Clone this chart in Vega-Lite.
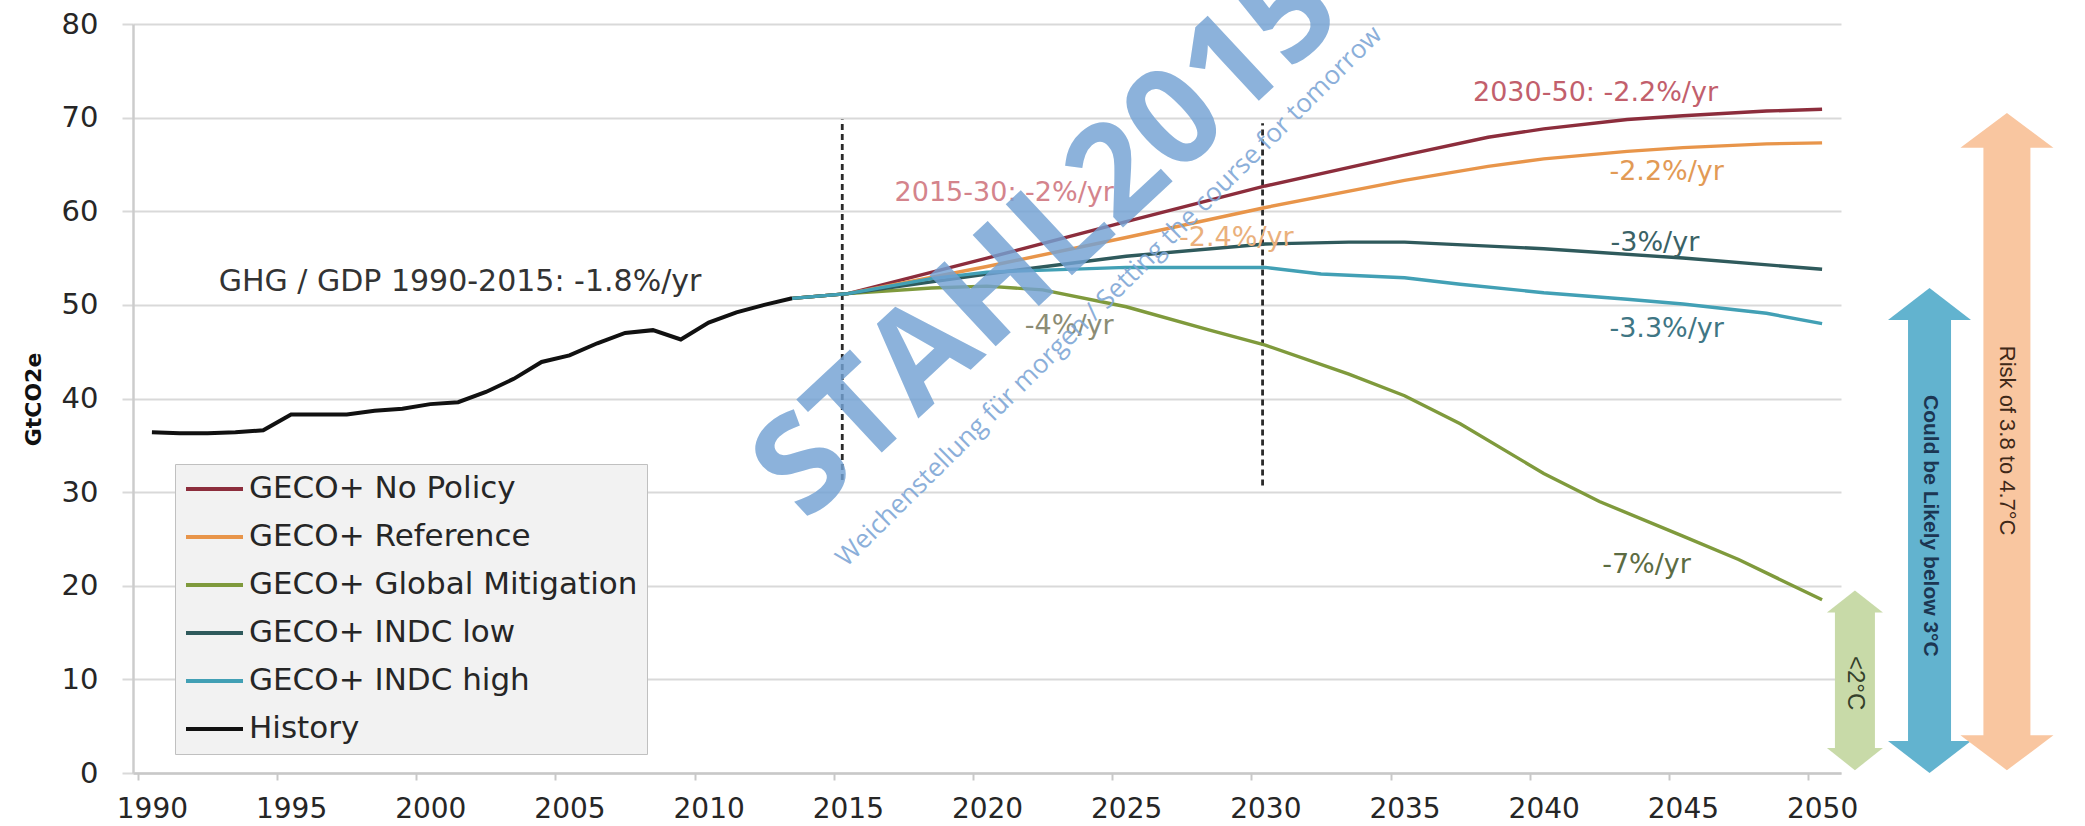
{
  "$schema": "https://vega.github.io/schema/vega-lite/v6.json",
  "width": 1708,
  "height": 749,
  "autosize": {"type": "none"},
  "padding": {"left": 133, "top": 24, "right": 244, "bottom": 53},
  "background": "#ffffff",
  "config": {"view": {"stroke": null}, "font": "DejaVu Sans"},
  "datasets": {
    "series": [
      {"series": "History", "year": 1990, "value": 36.4},
      {"series": "History", "year": 1991, "value": 36.3},
      {"series": "History", "year": 1992, "value": 36.3},
      {"series": "History", "year": 1993, "value": 36.4},
      {"series": "History", "year": 1994, "value": 36.6},
      {"series": "History", "year": 1995, "value": 38.3},
      {"series": "History", "year": 1996, "value": 38.3},
      {"series": "History", "year": 1997, "value": 38.3},
      {"series": "History", "year": 1998, "value": 38.7},
      {"series": "History", "year": 1999, "value": 38.9},
      {"series": "History", "year": 2000, "value": 39.4},
      {"series": "History", "year": 2001, "value": 39.6},
      {"series": "History", "year": 2002, "value": 40.7},
      {"series": "History", "year": 2003, "value": 42.1},
      {"series": "History", "year": 2004, "value": 43.9},
      {"series": "History", "year": 2005, "value": 44.6},
      {"series": "History", "year": 2006, "value": 45.9},
      {"series": "History", "year": 2007, "value": 47.0},
      {"series": "History", "year": 2008, "value": 47.3},
      {"series": "History", "year": 2009, "value": 46.3},
      {"series": "History", "year": 2010, "value": 48.1},
      {"series": "History", "year": 2011, "value": 49.2},
      {"series": "History", "year": 2012, "value": 50.0},
      {"series": "History", "year": 2013, "value": 50.7},
      {"series": "GECO+ No Policy", "year": 2013, "value": 50.7},
      {"series": "GECO+ No Policy", "year": 2015, "value": 51.2},
      {"series": "GECO+ No Policy", "year": 2020, "value": 55.0},
      {"series": "GECO+ No Policy", "year": 2025, "value": 58.9},
      {"series": "GECO+ No Policy", "year": 2030, "value": 62.7},
      {"series": "GECO+ No Policy", "year": 2035, "value": 66.0},
      {"series": "GECO+ No Policy", "year": 2038, "value": 67.9},
      {"series": "GECO+ No Policy", "year": 2040, "value": 68.8},
      {"series": "GECO+ No Policy", "year": 2043, "value": 69.8},
      {"series": "GECO+ No Policy", "year": 2045, "value": 70.2},
      {"series": "GECO+ No Policy", "year": 2048, "value": 70.7},
      {"series": "GECO+ No Policy", "year": 2050, "value": 70.9},
      {"series": "GECO+ Reference", "year": 2013, "value": 50.7},
      {"series": "GECO+ Reference", "year": 2015, "value": 51.2},
      {"series": "GECO+ Reference", "year": 2020, "value": 54.1},
      {"series": "GECO+ Reference", "year": 2025, "value": 57.2},
      {"series": "GECO+ Reference", "year": 2030, "value": 60.4},
      {"series": "GECO+ Reference", "year": 2035, "value": 63.3},
      {"series": "GECO+ Reference", "year": 2038, "value": 64.8},
      {"series": "GECO+ Reference", "year": 2040, "value": 65.6},
      {"series": "GECO+ Reference", "year": 2043, "value": 66.4},
      {"series": "GECO+ Reference", "year": 2045, "value": 66.8},
      {"series": "GECO+ Reference", "year": 2048, "value": 67.2},
      {"series": "GECO+ Reference", "year": 2050, "value": 67.3},
      {"series": "GECO+ Global Mitigation", "year": 2013, "value": 50.7},
      {"series": "GECO+ Global Mitigation", "year": 2015, "value": 51.2},
      {"series": "GECO+ Global Mitigation", "year": 2018, "value": 51.8},
      {"series": "GECO+ Global Mitigation", "year": 2020, "value": 52.0},
      {"series": "GECO+ Global Mitigation", "year": 2022, "value": 51.6},
      {"series": "GECO+ Global Mitigation", "year": 2025, "value": 49.8},
      {"series": "GECO+ Global Mitigation", "year": 2028, "value": 47.3},
      {"series": "GECO+ Global Mitigation", "year": 2030, "value": 45.7},
      {"series": "GECO+ Global Mitigation", "year": 2033, "value": 42.6},
      {"series": "GECO+ Global Mitigation", "year": 2035, "value": 40.3},
      {"series": "GECO+ Global Mitigation", "year": 2037, "value": 37.3},
      {"series": "GECO+ Global Mitigation", "year": 2040, "value": 32.0},
      {"series": "GECO+ Global Mitigation", "year": 2042, "value": 29.0},
      {"series": "GECO+ Global Mitigation", "year": 2045, "value": 25.3},
      {"series": "GECO+ Global Mitigation", "year": 2047, "value": 22.8},
      {"series": "GECO+ Global Mitigation", "year": 2050, "value": 18.5},
      {"series": "GECO+ INDC low", "year": 2013, "value": 50.7},
      {"series": "GECO+ INDC low", "year": 2015, "value": 51.2},
      {"series": "GECO+ INDC low", "year": 2020, "value": 53.3},
      {"series": "GECO+ INDC low", "year": 2025, "value": 55.2},
      {"series": "GECO+ INDC low", "year": 2030, "value": 56.5},
      {"series": "GECO+ INDC low", "year": 2033, "value": 56.7},
      {"series": "GECO+ INDC low", "year": 2035, "value": 56.7},
      {"series": "GECO+ INDC low", "year": 2040, "value": 56.0},
      {"series": "GECO+ INDC low", "year": 2045, "value": 55.0},
      {"series": "GECO+ INDC low", "year": 2050, "value": 53.8},
      {"series": "GECO+ INDC high", "year": 2013, "value": 50.7},
      {"series": "GECO+ INDC high", "year": 2015, "value": 51.2},
      {"series": "GECO+ INDC high", "year": 2018, "value": 52.8},
      {"series": "GECO+ INDC high", "year": 2020, "value": 53.5},
      {"series": "GECO+ INDC high", "year": 2025, "value": 54.0},
      {"series": "GECO+ INDC high", "year": 2030, "value": 54.0},
      {"series": "GECO+ INDC high", "year": 2032, "value": 53.3},
      {"series": "GECO+ INDC high", "year": 2035, "value": 52.9},
      {"series": "GECO+ INDC high", "year": 2037, "value": 52.2},
      {"series": "GECO+ INDC high", "year": 2040, "value": 51.3},
      {"series": "GECO+ INDC high", "year": 2043, "value": 50.6},
      {"series": "GECO+ INDC high", "year": 2045, "value": 50.1},
      {"series": "GECO+ INDC high", "year": 2048, "value": 49.1},
      {"series": "GECO+ INDC high", "year": 2050, "value": 48.0}
    ],
    "notes": [
      {"label": "GHG / GDP  1990-2015: -1.8%/yr", "year": 1992.4, "value": 52.4},
      {"label": "2015-30: -2%/yr", "year": 2016.68, "value": 62.0},
      {"label": "-2.4%/yr", "year": 2026.9, "value": 57.1},
      {"label": "-4%/yr", "year": 2021.36, "value": 47.7},
      {"label": "2030-50: -2.2%/yr", "year": 2037.46, "value": 72.6},
      {"label": "-2.2%/yr", "year": 2042.36, "value": 64.2},
      {"label": "-3%/yr", "year": 2042.4, "value": 56.6},
      {"label": "-3.3%/yr", "year": 2042.36, "value": 47.4},
      {"label": "-7%/yr", "year": 2042.1, "value": 22.2}
    ],
    "dividers": [
      {"year": 2014.8, "value": 31.3, "value2": 69.8},
      {"year": 2029.9, "value": 30.7, "value2": 69.4}
    ],
    "arrows": [
      {"label": "<2°C", "year": 2051.18, "value": 0.3, "value2": 19.5, "mid": 9.6},
      {"label": "Could be Likely below 3°C", "year": 2053.86, "value": 0, "value2": 51.8, "mid": 26.4},
      {"label": "Risk of 3.8 to 4.7°C", "year": 2056.64, "value": 0.3, "value2": 70.5, "mid": 35.5}
    ],
    "watermark": [
      {"label": "STAHL2015", "year": 2022.2, "value": 56.8},
      {"label": "Weichenstellung für morgen / Setting the course for tomorrow", "year": 2024.39, "value": 50.9}
    ]
  },
  "encoding": {
    "x": {
      "field": "year", "type": "quantitative",
      "scale": {"domain": [1989.5, 2050.5], "nice": false, "zero": false},
      "axis": {
        "title": null, "grid": false, "format": "d",
        "values": [1990, 1995, 2000, 2005, 2010, 2015, 2020, 2025, 2030, 2035, 2040, 2045, 2050],
        "tickOffset": -14, "labelOffset": 14, "tickSize": 7, "tickWidth": 2, "tickColor": "#c8c8c8",
        "domainColor": "#c8c8c8", "domainWidth": 2.5,
        "labelFont": "DejaVu Sans", "labelFontSize": 28, "labelColor": "#262626", "labelPadding": 15
      }
    },
    "y": {
      "field": "value", "type": "quantitative",
      "scale": {"domain": [0, 80], "nice": false, "zero": true},
      "axis": {
        "title": "GtCO2e", "values": [0, 10, 20, 30, 40, 50, 60, 70, 80],
        "grid": true, "gridColor": "#d9d9d9", "gridWidth": 2,
        "tickSize": 11, "tickWidth": 2, "tickColor": "#d9d9d9",
        "domainColor": "#cccccc", "domainWidth": 2.5,
        "labelFont": "DejaVu Sans", "labelFontSize": 29, "labelColor": "#262626", "labelPadding": 24,
        "titleFont": "DejaVu Sans", "titleFontSize": 22, "titleFontWeight": "bold", "titleColor": "#111111",
        "titleX": -100, "titleY": 375, "titleBaseline": "middle", "titleAlign": "center"
      }
    }
  },
  "resolve": {"scale": {"color": "independent"}},
  "layer": [
    {
      "data": {"name": "dividers"},
      "mark": {"type": "rule", "strokeDash": [6, 4], "strokeWidth": 2.8, "color": "#2a2a2a"},
      "encoding": {"y2": {"field": "value2"}}
    },
    {
      "data": {"name": "series"},
      "mark": {"type": "line"},
      "encoding": {
        "strokeWidth": {"condition": {"test": "datum.series == 'History'", "value": 4}, "value": 3.4},
        "color": {
          "field": "series", "type": "nominal",
          "scale": {
            "domain": ["GECO+ No Policy", "GECO+ Reference", "GECO+ Global Mitigation", "GECO+ INDC low", "GECO+ INDC high", "History"],
            "range": ["#8c2d3c", "#e8954a", "#7f9a3c", "#2f5a5c", "#42a0b5", "#111111"]
          },
          "legend": {
            "title": null, "orient": "none", "legendX": 42, "legendY": 440,
            "symbolType": "stroke", "symbolSize": 3249, "symbolStrokeWidth": 4,
            "clipHeight": 32,
            "labelFont": "DejaVu Sans", "labelFontSize": 31, "labelColor": "#262626", "labelLimit": 800,
            "fillColor": "#f2f2f2", "strokeColor": "#c0c0c0", "padding": 9, "rowPadding": 16, "labelOffset": 4
          }
        }
      }
    },
    {
      "data": {"name": "notes"},
      "mark": {"type": "text", "align": "left", "baseline": "middle", "fontSize": 27, "font": "DejaVu Sans"},
      "encoding": {
        "text": {"field": "label"},
        "size": {"condition": {"test": "datum.label == 'GHG / GDP  1990-2015: -1.8%/yr'", "value": 30}, "value": 27},
        "color": {
          "field": "label", "type": "nominal", "legend": null,
          "scale": {
            "domain": ["GHG / GDP  1990-2015: -1.8%/yr", "2015-30: -2%/yr", "-2.4%/yr", "-4%/yr", "2030-50: -2.2%/yr", "-2.2%/yr", "-3%/yr", "-3.3%/yr", "-7%/yr"],
            "range": ["#333333", "#d4848c", "#eab07c", "#8c8c74", "#c25f6c", "#e29a55", "#3a6266", "#3f7684", "#5c6c42"]
          }
        }
      }
    },
    {
      "data": {"name": "arrows"},
      "transform": [{"filter": "datum.label == '<2°C'"}],
      "layer": [
        {"mark": {"type": "bar", "width": 40, "color": "#c8daa8", "yOffset": -21, "y2Offset": 21}, "encoding": {"y2": {"field": "value2"}}},
        {"mark": {"type": "point", "shape": "M0,0L-1,0.79L1,0.79Z", "size": 3136, "filled": true, "opacity": 1, "strokeWidth": 0, "color": "#c8daa8"}, "encoding": {"y": {"field": "value2", "type": "quantitative"}}},
        {"mark": {"type": "point", "shape": "M0,0L-1,-0.79L1,-0.79Z", "size": 3136, "filled": true, "opacity": 1, "strokeWidth": 0, "color": "#c8daa8"}},
        {"mark": {"type": "text", "angle": 90, "fontSize": 24, "font": "Liberation Sans", "color": "#34402a", "align": "center", "baseline": "middle"}, "encoding": {"y": {"field": "mid", "type": "quantitative"}, "text": {"field": "label"}}}
      ]
    },
    {
      "data": {"name": "arrows"},
      "transform": [{"filter": "datum.label == 'Could be Likely below 3°C'"}],
      "layer": [
        {"mark": {"type": "bar", "width": 43, "color": "#62b3cf", "yOffset": -31, "y2Offset": 31}, "encoding": {"y2": {"field": "value2"}}},
        {"mark": {"type": "point", "shape": "M0,0L-1,0.77L1,0.77Z", "size": 6889, "filled": true, "opacity": 1, "strokeWidth": 0, "color": "#62b3cf"}, "encoding": {"y": {"field": "value2", "type": "quantitative"}}},
        {"mark": {"type": "point", "shape": "M0,0L-1,-0.77L1,-0.77Z", "size": 6889, "filled": true, "opacity": 1, "strokeWidth": 0, "color": "#62b3cf"}},
        {"mark": {"type": "text", "angle": 90, "fontSize": 21, "fontWeight": "bold", "font": "Liberation Sans", "color": "#1c3652", "align": "center", "baseline": "middle"}, "encoding": {"y": {"field": "mid", "type": "quantitative"}, "text": {"field": "label"}}}
      ]
    },
    {
      "data": {"name": "arrows"},
      "transform": [{"filter": "datum.label == 'Risk of 3.8 to 4.7°C'"}],
      "layer": [
        {"mark": {"type": "bar", "width": 47, "color": "#f9c6a0", "yOffset": -34, "y2Offset": 34}, "encoding": {"y2": {"field": "value2"}}},
        {"mark": {"type": "point", "shape": "M0,0L-1,0.75L1,0.75Z", "size": 8649, "filled": true, "opacity": 1, "strokeWidth": 0, "color": "#f9c6a0"}, "encoding": {"y": {"field": "value2", "type": "quantitative"}}},
        {"mark": {"type": "point", "shape": "M0,0L-1,-0.75L1,-0.75Z", "size": 8649, "filled": true, "opacity": 1, "strokeWidth": 0, "color": "#f9c6a0"}},
        {"mark": {"type": "text", "angle": 90, "fontSize": 22, "font": "Liberation Sans", "color": "#3f2818", "align": "center", "baseline": "middle"}, "encoding": {"y": {"field": "mid", "type": "quantitative"}, "text": {"field": "label"}}}
      ]
    },
    {
      "data": {"name": "watermark"},
      "transform": [{"filter": "datum.label == 'STAHL2015'"}],
      "mark": {"type": "text", "angle": -43, "fontSize": 136, "fontWeight": "bold", "font": "Open Sans", "color": "#73a2d4", "opacity": 0.82, "align": "center", "baseline": "middle"},
      "encoding": {"text": {"field": "label"}}
    },
    {
      "data": {"name": "watermark"},
      "transform": [{"filter": "datum.label != 'STAHL2015'"}],
      "mark": {"type": "text", "angle": -44.7, "fontSize": 26, "font": "Open Sans", "color": "#7fa7d6", "opacity": 0.9, "align": "center", "baseline": "middle"},
      "encoding": {"text": {"field": "label"}}
    }
  ]
}
